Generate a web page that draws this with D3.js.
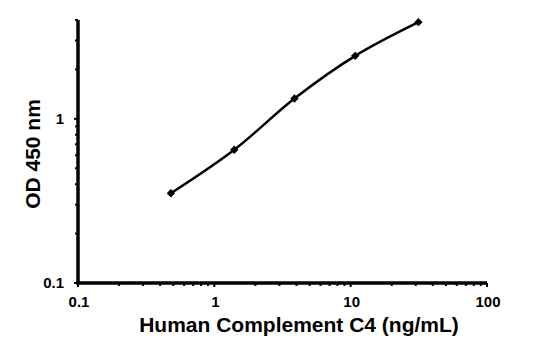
<!DOCTYPE html>
<html><head><meta charset="utf-8">
<script src="https://cdn.jsdelivr.net/npm/d3@7"></script>
<style>body{margin:0;background:#fff;} text{font-family:"Liberation Sans",Arial,sans-serif;font-weight:bold;}</style>
</head><body><svg id="c" width="552" height="341"></svg>
<script>
const concentrations = [0.48, 1.4, 3.87, 10.8, 31.4];
const odValues = [0.352, 0.648, 1.33, 2.42, 3.88];
const xTickLabels = [0.1, 1, 10, 100];
const yTickLabels = [0.1, 1];
const xTitle = "Human Complement C4 (ng/mL)";
const yTitle = "OD 450 nm";

(function () {
const svg = d3.select("#c");
const pL = 78, pR = 487, pT = 20, pB = 283;
const x = d3.scaleLog().domain([0.1, 100]).range([pL, pR]);
const y = d3.scaleLog().domain([0.1, 4]).range([pB, pT]);

const xMinor = [];
for (let d = 0.1; d < 100; d *= 10) for (let k = 2; k <= 9; k++) xMinor.push(d * k);
const yMinor = [];
for (let d = 0.1; d < 4; d *= 10) for (let k = 2; k <= 9; k++) if (d * k <= 4.001) yMinor.push(d * k);

const g = svg.append("g");
g.selectAll(".xm").data(xMinor).join("line")
  .attr("x1", d => x(d)).attr("x2", d => x(d)).attr("y1", pB).attr("y2", pB + 3)
  .attr("stroke", "#000").attr("stroke-width", 2);
g.selectAll(".xM").data(xTickLabels).join("line")
  .attr("x1", d => x(d)).attr("x2", d => x(d)).attr("y1", pB).attr("y2", pB + 4)
  .attr("stroke", "#000").attr("stroke-width", 2);
g.selectAll(".ym").data(yMinor).join("line")
  .attr("x1", pL - 3).attr("x2", pL).attr("y1", d => y(d)).attr("y2", d => y(d))
  .attr("stroke", "#000").attr("stroke-width", 2);
g.selectAll(".yM").data(yTickLabels).join("line")
  .attr("x1", pL - 4).attr("x2", pL).attr("y1", d => y(d)).attr("y2", d => y(d))
  .attr("stroke", "#000").attr("stroke-width", 2);

g.append("line").attr("x1", pL).attr("x2", pL).attr("y1", pT).attr("y2", pB + 1.5)
  .attr("stroke", "#000").attr("stroke-width", 3.5);
g.append("line").attr("x1", pL - 1.5).attr("x2", pR).attr("y1", pB).attr("y2", pB)
  .attr("stroke", "#000").attr("stroke-width", 3.5);

g.selectAll(".xl").data(xTickLabels).join("text")
  .attr("x", d => x(d) + 1).attr("y", pB + 24).attr("text-anchor", "middle")
  .attr("font-size", 15).text(d => d);
g.selectAll(".yl").data(yTickLabels).join("text")
  .attr("x", pL - 14).attr("y", d => y(d) + 5).attr("text-anchor", "end")
  .attr("font-size", 15).text(d => d);

svg.append("text").attr("x", 299).attr("y", 332).attr("text-anchor", "middle")
  .attr("font-size", 21).text(xTitle);
svg.append("text").attr("transform", "translate(40,154) rotate(-90)").attr("text-anchor", "middle")
  .attr("font-size", 21).text(yTitle);

const pts = concentrations.map((c, i) => [c, odValues[i]]);
const line = d3.line().x(d => x(d[0])).y(d => y(d[1])).curve(d3.curveCatmullRom.alpha(0.5));
svg.append("path").datum(pts).attr("d", line).attr("fill", "none")
  .attr("stroke", "#000").attr("stroke-width", 2.5);
const sym = d3.symbolDiamond2 || d3.symbolDiamond;
svg.selectAll(".pt").data(pts).join("path")
  .attr("transform", d => `translate(${x(d[0])},${y(d[1])})`)
  .attr("d", d3.symbol(sym, 45)).attr("fill", "#000");
})();
</script></body></html>
